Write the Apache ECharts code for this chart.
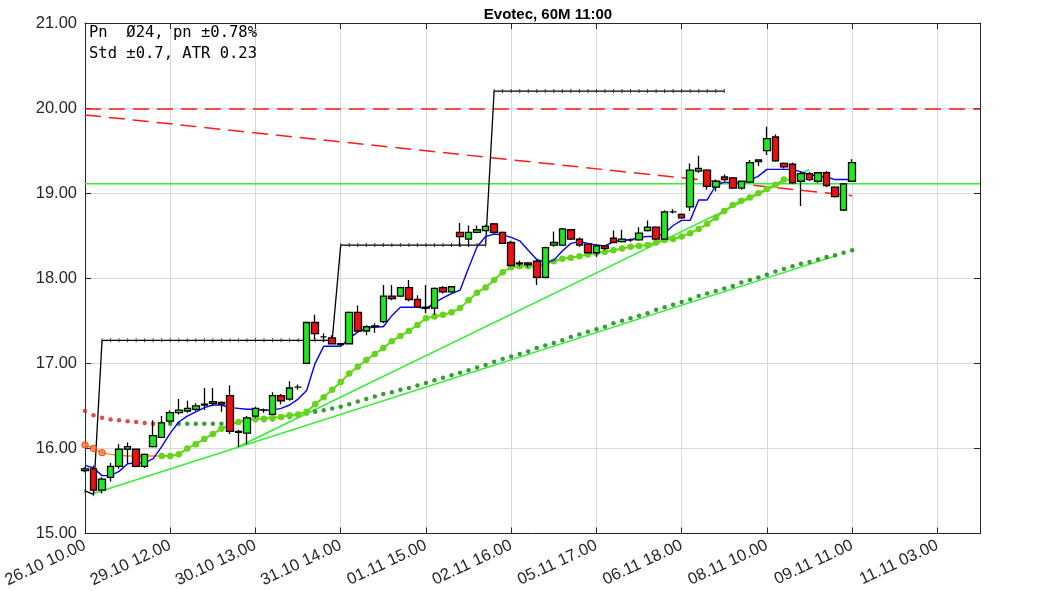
<!DOCTYPE html>
<html><head><meta charset="utf-8">
<script src="https://cdn.jsdelivr.net/npm/echarts@6/dist/echarts.min.js"></script>
<style>html,body{margin:0;padding:0;background:#fff}#c{width:1063px;height:591px}</style>
</head><body><div id="c"></div>
<script>
// ---- data ----
const tickLabels = ['26.10 10.00','29.10 12.00','30.10 13.00','31.10 14.00','01.11 15.00','02.11 16.00','05.11 17.00','06.11 18.00','08.11 10.00','09.11 11.00','11.11 03.00'];
const slotCount = 106; // bar slots on the x axis (0..105)

const open  = [15.74,15.76,15.51,15.66,15.79,15.99,15.99,15.79,16.02,16.13,16.32,16.42,16.44,16.46,16.51,16.53,16.54,16.62,16.20,16.18,16.38,16.45,16.40,16.62,16.58,16.72,17.00,17.48,17.31,17.30,17.22,17.23,17.60,17.38,17.43,17.49,17.79,17.79,17.89,17.75,17.66,17.65,17.89,17.84,18.54,18.46,18.54,18.56,18.64,18.54,18.42,18.17,18.18,18.20,18.01,18.39,18.39,18.57,18.46,18.40,18.30,18.38,18.47,18.43,18.45,18.45,18.56,18.60,18.46,18.78,18.75,18.84,19.26,19.27,19.07,19.19,19.18,19.06,19.13,19.37,19.50,19.66,19.35,19.34,19.14,19.23,19.14,19.24,19.07,18.80,19.14];
const close = [15.76,15.51,15.64,15.79,15.99,16.02,15.79,15.93,16.15,16.30,16.42,16.45,16.47,16.50,16.52,16.55,16.52,16.20,16.19,16.36,16.47,16.45,16.62,16.56,16.71,16.72,17.48,17.35,17.31,17.23,17.23,17.60,17.38,17.43,17.44,17.79,17.76,17.89,17.75,17.66,17.65,17.88,17.84,17.90,18.49,18.54,18.57,18.61,18.54,18.41,18.15,18.18,18.16,18.01,18.36,18.42,18.58,18.46,18.39,18.30,18.38,18.35,18.42,18.46,18.45,18.53,18.60,18.46,18.78,18.78,18.71,19.27,19.29,19.08,19.14,19.16,19.06,19.14,19.36,19.39,19.64,19.38,19.31,19.12,19.23,19.16,19.24,19.09,18.96,19.11,19.36];
const low   = [15.72,15.46,15.47,15.61,15.76,15.82,15.78,15.77,16.01,16.12,16.30,16.40,16.42,16.44,16.45,16.50,16.43,16.17,16.02,16.05,16.36,16.42,16.39,16.52,16.56,16.69,16.99,17.28,17.25,17.22,17.21,17.22,17.37,17.33,17.36,17.47,17.74,17.78,17.73,17.65,17.59,17.57,17.82,17.83,18.37,18.37,18.53,18.55,18.53,18.40,18.14,18.14,18.13,17.92,18.00,18.37,18.38,18.45,18.37,18.29,18.25,18.33,18.41,18.42,18.43,18.44,18.55,18.45,18.45,18.76,18.70,18.79,19.24,19.04,19.02,19.14,19.05,19.04,19.12,19.32,19.45,19.37,19.29,19.11,18.85,19.14,19.12,19.07,18.95,18.79,19.13];
const high  = [15.78,15.80,15.66,15.83,16.05,16.07,16.00,15.94,16.33,16.38,16.45,16.58,16.56,16.53,16.71,16.71,16.55,16.74,16.22,16.38,16.49,16.47,16.66,16.64,16.79,16.75,17.49,17.57,17.35,17.33,17.24,17.61,17.68,17.45,17.47,17.92,17.92,17.90,17.98,17.80,17.92,17.89,17.91,17.91,18.65,18.62,18.62,18.63,18.65,18.55,18.44,18.21,18.19,18.22,18.37,18.55,18.59,18.58,18.48,18.41,18.40,18.39,18.56,18.57,18.47,18.60,18.68,18.61,18.80,18.81,18.76,19.35,19.44,19.28,19.16,19.22,19.19,19.15,19.39,19.40,19.78,19.69,19.36,19.36,19.25,19.25,19.25,19.26,19.08,19.12,19.40];

// fast filter (blue)
const fastLine = [15.80,15.77,15.68,15.68,15.73,15.82,15.83,15.83,15.88,16.02,16.18,16.31,16.38,16.43,16.48,16.51,16.51,16.48,16.47,16.46,16.46,16.45,16.45,16.47,16.51,16.58,16.68,17.00,17.20,17.20,17.20,17.29,17.37,17.41,17.43,17.43,17.56,17.66,17.66,17.66,17.64,17.71,17.77,17.82,17.86,18.12,18.37,18.49,18.52,18.51,18.48,18.44,18.33,18.22,18.19,18.21,18.32,18.41,18.43,18.41,18.39,18.38,18.43,18.45,18.45,18.48,18.49,18.49,18.53,18.62,18.68,18.68,18.92,18.92,19.09,19.13,19.12,19.12,19.15,19.20,19.28,19.28,19.28,19.28,19.25,19.22,19.20,19.19,19.16,19.16,19.16];

// stop / step line (black)
const stepLine = [15.50,15.46,17.27,17.27,17.27,17.27,17.27,17.27,17.27,17.27,17.27,17.27,17.27,17.27,17.27,17.27,17.27,17.27,17.27,17.27,17.27,17.27,17.27,17.27,17.27,17.27,17.27,17.27,17.27,17.27,18.39,18.39,18.39,18.39,18.39,18.39,18.39,18.39,18.39,18.39,18.39,18.39,18.39,18.39,18.39,18.39,18.39,18.39,20.20,20.20,20.20,20.20,20.20,20.20,20.20,20.20,20.20,20.20,20.20,20.20,20.20,20.20,20.20,20.20,20.20,20.20,20.20,20.20,20.20,20.20,20.20,20.20,20.20,20.20,20.20,20.20];

// medium average (orange while falling, light green while rising)
const midLine = [16.04,16.00,15.95,15.93,15.92,15.91,15.91,15.91,15.91,15.91,15.91,15.93,16.00,16.05,16.11,16.17,16.23,16.28,16.31,16.33,16.35,16.35,16.36,16.37,16.39,16.40,16.43,16.52,16.60,16.69,16.78,16.88,16.96,17.04,17.11,17.18,17.26,17.32,17.38,17.45,17.53,17.55,17.57,17.60,17.65,17.74,17.83,17.89,17.98,18.07,18.13,18.14,18.14,18.14,18.17,18.20,18.23,18.24,18.26,18.28,18.30,18.31,18.33,18.35,18.37,18.38,18.39,18.42,18.45,18.46,18.49,18.53,18.58,18.64,18.71,18.79,18.86,18.91,18.95,19.00,19.05,19.10,19.16];
const midFallingEnd = 9;

// slow average (dotted; red where falling)
const slowLine = [16.44,16.39,16.36,16.34,16.33,16.32,16.31,16.30,16.29,16.29,16.29,16.29,16.29,16.29,16.29,16.29,16.29,16.30,16.31,16.32,16.33,16.33,16.34,16.36,16.37,16.39,16.41,16.43,16.45,16.47,16.49,16.52,16.55,16.58,16.61,16.64,16.66,16.69,16.71,16.74,16.77,16.80,16.83,16.86,16.89,16.92,16.95,16.98,17.02,17.05,17.08,17.11,17.14,17.18,17.21,17.24,17.27,17.31,17.34,17.37,17.40,17.43,17.47,17.50,17.53,17.56,17.59,17.63,17.66,17.69,17.72,17.75,17.79,17.82,17.85,17.88,17.91,17.95,17.98,18.01,18.04,18.08,18.11,18.14,18.17,18.19,18.22,18.25,18.27,18.30,18.33];
const slowRedIdx = [0,1,2,3,4,5,6,7,8,18];

// straight lines: [slot, value]
const resistanceFlat  = [[0,19.99],[105,19.99]];
const resistanceSlope = [[0,19.92],[90,18.97]];
const levelGreen      = [[0,19.11],[105,19.11]];
const trendLow        = [[1,15.47],[88,18.26]];
const trendHigh       = [[18,16.02],[85,19.28]];

const titleText = 'Evotec, 60M 11:00';
const infoLines = ['Pn  Ø24, pn ±0.78%', 'Std ±0.7, ATR 0.23'];

// ---- build ----
const slots = Array.from({length: slotCount}, (_, i) => String(i));
const isTick = (i) => i % 10 === 0;
const candleData = open.map((o, i) => [o, close[i], low[i], high[i]]);
const midFalling = midLine.map((v, i) => i <= midFallingEnd ? v : '-');
const midRising = midLine.map((v, i) => i >= midFallingEnd ? v : '-');
const slowRed = slowLine.map((v, i) => slowRedIdx.includes(i) ? v : '-');
const slowGreen = slowLine.map((v, i) => slowRedIdx.includes(i) ? '-' : v);
const midFallDots = midLine.map((v, i) => i <= 2 ? v : '-');

const axisColor = '#262626';
const font = 'Liberation Sans, Arial, sans-serif';

const chart = echarts.init(document.getElementById('c'), null, {renderer: 'canvas'});
chart.setOption({
  animation: false,
  backgroundColor: '#fff',
  title: {text: titleText, left: 543, top: 2, textAlign: 'center',
    textStyle: {fontSize: 15, fontWeight: 'bold', color: '#000', fontFamily: font}},
  grid: {left: 85, right: 83, top: 23, bottom: 57.5, containLabel: false, outerBoundsMode: 'none'},
  xAxis: [{
    type: 'category', data: slots, boundaryGap: false, position: 'bottom',
    axisLine: {lineStyle: {color: axisColor, width: 1}},
    axisTick: {inside: true, length: 6, interval: (i) => isTick(i), lineStyle: {color: axisColor}},
    axisLabel: {interval: (i) => isTick(i), rotate: 25, fontSize: 16.5, color: axisColor, fontFamily: font, margin: 11,
      formatter: (v, i) => tickLabels[Math.round(i / 10)] || ''},
    splitLine: {show: true, interval: (i) => isTick(i), lineStyle: {color: '#d9d9d9', width: 1}}
  }, {
    type: 'category', data: slots, boundaryGap: false, position: 'top',
    axisLine: {lineStyle: {color: axisColor, width: 1}},
    axisTick: {inside: true, length: 6, interval: (i) => isTick(i), lineStyle: {color: axisColor}},
    axisLabel: {show: false}, splitLine: {show: false}
  }],
  yAxis: [{
    type: 'value', min: 15, max: 21, interval: 1, position: 'left',
    axisLine: {show: true, lineStyle: {color: axisColor, width: 1}},
    axisTick: {show: true, inside: true, length: 6, lineStyle: {color: axisColor}},
    axisLabel: {fontSize: 16.5, color: axisColor, fontFamily: font, margin: 8, formatter: (v) => v.toFixed(2)},
    splitLine: {show: true, lineStyle: {color: '#d9d9d9', width: 1}}
  }, {
    type: 'value', min: 15, max: 21, interval: 1, position: 'right',
    axisLine: {show: true, lineStyle: {color: axisColor, width: 1}},
    axisTick: {show: true, inside: true, length: 6, lineStyle: {color: axisColor}},
    axisLabel: {show: false}, splitLine: {show: false}
  }],
  graphic: infoLines.map((t, k) => ({
    type: 'text', left: 89, top: 25 + k * 21, z: 100,
    style: {text: t, font: '15.5px "DejaVu Sans Mono", monospace', fill: '#000'}
  })),
  series: [
    {type: 'line', data: resistanceFlat, symbol: 'none', z: 2,
      lineStyle: {color: '#ff1a1a', width: 1.5, type: [16, 8]}},
    {type: 'line', data: resistanceSlope, symbol: 'none', z: 2,
      lineStyle: {color: '#ff1a1a', width: 1.5, type: [16, 8]}},
    {type: 'line', data: levelGreen, symbol: 'none', z: 2,
      lineStyle: {color: '#33ee33', width: 1.5}},
    {type: 'line', data: trendLow, symbol: 'none', z: 2,
      lineStyle: {color: '#33ee33', width: 1.5}},
    {type: 'line', data: trendHigh, symbol: 'none', z: 2,
      lineStyle: {color: '#33ee33', width: 1.5}},
    {type: 'scatter', data: slowGreen, symbol: 'circle', symbolSize: 4.5, z: 3,
      itemStyle: {color: '#058505'}},
    {type: 'scatter', data: slowRed, symbol: 'circle', symbolSize: 4.5, z: 3,
      itemStyle: {color: '#d42020'}},
    {type: 'line', data: midFalling, symbol: 'none', z: 3,
      lineStyle: {color: '#ff8a1a', width: 1.5}},
    {type: 'scatter', data: midFallDots, symbol: 'circle', symbolSize: 6.5, z: 4,
      itemStyle: {color: '#ff7a3a', borderColor: '#ff2a00', borderWidth: 1}},
    {type: 'line', data: midRising, symbol: 'circle', symbolSize: 6.5, showSymbol: true, showAllSymbol: true, z: 3,
      lineStyle: {color: '#66d41a', width: 2}, itemStyle: {color: '#66d41a', borderWidth: 0}},
    {type: 'line', data: stepLine, symbol: 'rect', symbolSize: [1, 4], showSymbol: true, showAllSymbol: true, z: 4,
      lineStyle: {color: '#000', width: 1.3}, itemStyle: {color: '#333'}},
    {type: 'line', data: fastLine, symbol: 'none', z: 4,
      lineStyle: {color: '#0000ff', width: 1.4}},
    {type: 'candlestick', data: candleData, barWidth: 7, z: 5,
      itemStyle: {color: '#1fe81f', color0: '#ee1010', borderColor: '#000', borderColor0: '#000', borderColorDoji: '#000', borderWidth: 1.3}}
  ]
});
</script></body></html>
